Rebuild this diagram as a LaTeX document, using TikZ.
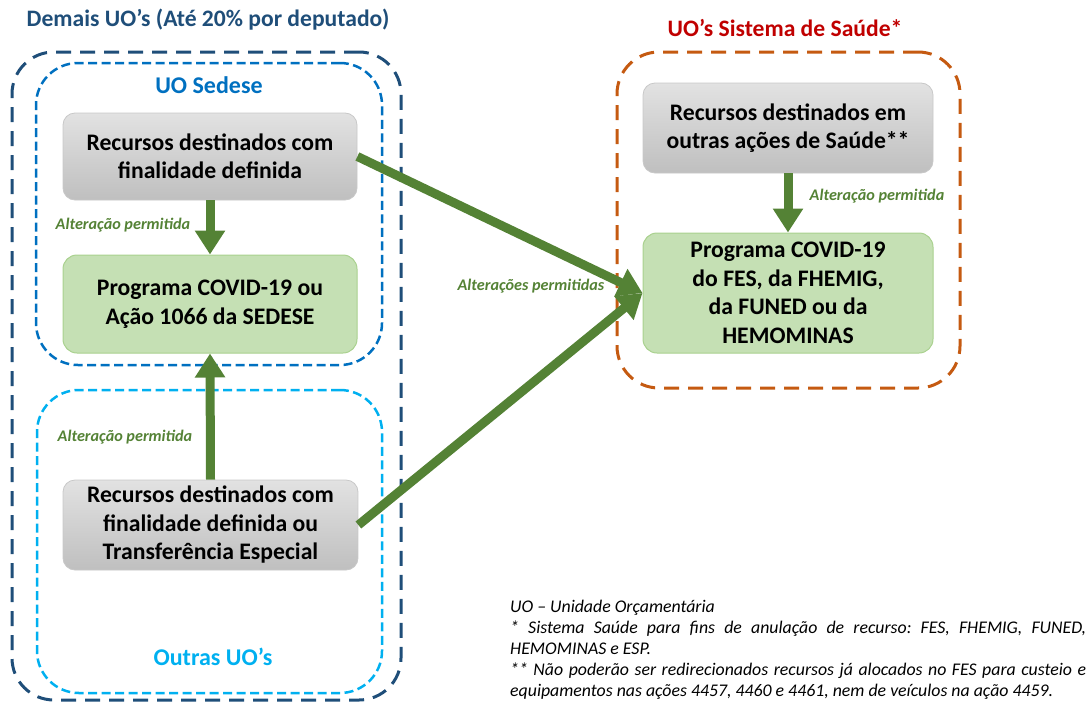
\documentclass[tikz,border=0pt]{standalone}
\usepackage{fontspec}
\setmainfont{Carlito}
\usetikzlibrary{arrows.meta}
\frenchspacing
\definecolor{outerblue}{HTML}{1F4E79}
\definecolor{sedeseblue}{HTML}{0070C0}
\definecolor{outrasblue}{HTML}{00B0F0}
\definecolor{orangec}{HTML}{C55A11}
\definecolor{redc}{HTML}{C00000}
\definecolor{arrowgreen}{HTML}{548235}
\definecolor{greenfill}{HTML}{C5E0B4}
\definecolor{greenline}{HTML}{A9D18E}
\definecolor{graytop}{HTML}{E2E2E2}
\definecolor{graybot}{HTML}{BFBFBF}
\definecolor{grayline}{HTML}{C8C8C8}
\begin{document}
\begin{tikzpicture}[x=1pt,y=-1pt,
  boxtext/.style={align=center,font=\fontsize{23.7}{28.5}\selectfont\bfseries,text=black,inner sep=0pt},
  graybox/.style={boxtext,shade,top color=graytop,bottom color=graybot,draw=grayline,line width=0.8pt,rounded corners=12pt},
  greenbox/.style={boxtext,fill=greenfill,draw=greenline,line width=1pt,rounded corners=14pt},
  container/.style={minimum width=#1,inner sep=0pt,rounded corners=42pt},
  bigdash/.style={dash pattern=on 15pt off 9pt,line width=3pt},
  smalldash/.style={dash pattern=on 9pt off 4.5pt,line width=2.5pt},
  flow/.style={draw=arrowgreen,line width=9pt,-{Triangle[width=29pt,length=24pt]}},
  altlabel/.style={font=\fontsize{16.2}{18}\selectfont\bfseries\itshape,text=arrowgreen,inner sep=0pt},
  title/.style={font=\fontsize{23.6}{26}\selectfont\bfseries,inner sep=0pt},
  subtitle/.style={font=\fontsize{24}{26}\selectfont\bfseries,inner sep=0pt}
]
\useasboundingbox (0,0) rectangle (1091,704);
% containers
\node[container=389pt,minimum height=648pt,draw=outerblue,bigdash] (outer) at (206.5,376) {};
\node[container=346pt,minimum height=302pt,draw=sedeseblue,smalldash] (sedese) at (209,214) {};
\node[container=345pt,minimum height=303pt,draw=outrasblue,smalldash] (outras) at (209.5,541.5) {};
\node[container=343pt,minimum height=336pt,draw=orangec,bigdash] (saude) at (788.5,220) {};
% titles
\node[title,text=outerblue] (t1) at (208,20) {Demais UO’s (Até 20\% por deputado)};
\node[title,text=redc] (t2) at (785,28) {UO’s Sistema de Saúde*};
\node[subtitle,text=sedeseblue] (t3) at (209,85) {UO Sedese};
\node[subtitle,text=outrasblue] (t4) at (213,657) {Outras UO’s};
% boxes
\node[graybox,minimum width=294pt,minimum height=87pt] (g1) at (210,156.5) {Recursos destinados com\\finalidade definida};
\node[greenbox,minimum width=294pt,minimum height=98pt] (p1) at (210,304) {Programa COVID-19 ou\\Ação 1066 da SEDESE};
\node[graybox,minimum width=295pt,minimum height=90pt] (g2) at (210.5,525) {Recursos destinados com\\finalidade definida ou\\Transferência Especial};
\node[graybox,minimum width=290pt,minimum height=90pt] (g3) at (788,128) {Recursos destinados em\\outras ações de Saúde**};
\node[greenbox,minimum width=290pt,minimum height=120pt] (p2) at (788,293) {Programa COVID-19\\do FES, da FHEMIG,\\da FUNED ou da\\HEMOMINAS};
% arrows
\draw[flow] (g1.south) -- (p1.north);
\draw[flow] (g2.north) -- (p1.south);
\draw[flow] (g3.south) -- (p2.north);
\draw[flow] (g1.east) -- (p2.west);
\draw[flow] (g2.east) -- (p2.west);
% labels
\node[altlabel] (l1) at (123,225) {Alteração permitida};
\node[altlabel] (l2) at (125,437) {Alteração permitida};
\node[altlabel] (l3) at (877,196) {Alteração permitida};
\node[altlabel] (l4) at (531,286) {Alterações permitidas};
% footnote
\node[anchor=base west,inner sep=0pt,text width=576pt,font=\fontsize{17.8}{21}\selectfont\itshape,align=justify] (fn) at (510,612) {%
\parindent=0pt\frenchspacing
UO – Unidade Orçamentária\par
* Sistema Saúde para fins de anulação de recurso: FES, FHEMIG, FUNED,\linebreak HEMOMINAS e ESP.\par
** Não poderão ser redirecionados recursos já alocados no FES para custeio e\linebreak equipamentos nas ações 4457, 4460 e 4461, nem de veículos na ação 4459.\par};
\end{tikzpicture}
\end{document}
